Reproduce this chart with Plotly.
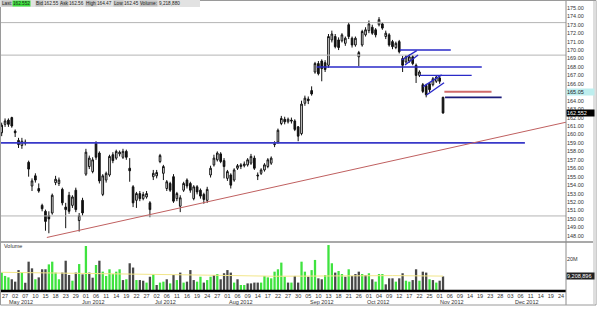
import plotly.graph_objects as go

# ---------------- data (trading-day index, 0 = 27 Apr 2012) ----------------
day_index = list(range(-1, 131))
opens = [160.2, 161.2, 161.7, 162.0, 160.4, 159.3, 158.7, 159.1, 156.7, 153.9,
         155.1, 153.6, 151.6, 150.9, 150.4, 150.7, 154.3, 154.2, 153.5, 151.4,
         152.8, 151.6, 153.4, 149.8, 152.2, 155.3, 156.2, 155.6, 158.95, 157.8,
         152.9, 154.6, 155.2, 157.6, 157.2, 157.7, 157.3, 158.0, 156.0, 153.8,
         152.2, 153.0, 152.4, 152.6, 151.9, 155.0, 155.1, 156.8, 155.4, 153.6,
         154.2, 155.0, 152.4, 151.5, 153.4, 154.6, 154.2, 152.4, 153.8, 153.4,
         152.9, 152.2, 155.2, 156.4, 157.0, 157.7, 156.9, 154.8, 155.2, 154.6,
         156.0, 156.2, 156.3, 156.4, 156.6, 157.2, 155.2, 155.4, 155.8, 156.2,
         156.6, 158.8, 159.1, 161.3, 161.8, 161.5, 161.7, 161.6, 160.9, 160.1,
         163.7, 164.2, 165.2, 167.4, 168.4, 168.7, 168.5, 168.2, 171.2, 171.6,
         171.2, 171.1, 170.8, 173.0, 171.4, 170.6, 169.2, 170.6, 171.8, 172.3,
         172.7, 172.4, 173.0, 173.1, 171.6, 171.8, 171.0, 170.3, 171.0, 169.0,
         168.6, 168.7, 169.2, 168.2, 167.0, 165.9, 165.8, 166.0, 165.9, 166.3,
         166.7, 164.4]
highs = [161.4, 161.9, 161.9, 162.1, 160.6, 159.6, 159.6, 159.4, 156.9, 154.8,
         155.4, 154.2, 151.8, 151.1, 150.9, 153.0, 155.1, 154.9, 153.7, 151.9,
         153.2, 152.8, 153.7, 150.7, 152.5, 158.3, 157.5, 157.3, 159.2, 158.0,
         155.3, 155.6, 157.6, 157.9, 158.2, 158.1, 158.3, 158.2, 157.2, 154.0,
         153.2, 153.3, 153.2, 153.3, 152.1, 155.8, 155.8, 157.7, 156.4, 154.6,
         154.4, 155.3, 153.2, 152.8, 154.4, 154.8, 154.4, 154.0, 154.0, 153.6,
         153.1, 153.8, 156.3, 157.6, 158.0, 157.9, 157.2, 155.8, 155.4, 156.0,
         156.5, 156.6, 156.8, 157.2, 157.7, 157.5, 155.5, 156.0, 156.6, 157.2,
         157.4, 159.2, 160.7, 162.2, 162.1, 162.0, 162.0, 161.8, 161.0, 164.0,
         164.6, 164.5, 165.7, 168.6, 168.7, 168.9, 168.8, 171.9, 172.3, 171.9,
         171.5, 172.0, 171.6, 173.3, 171.6, 171.6, 169.9, 172.4, 172.7, 173.5,
         173.0, 172.6, 173.9, 173.3, 172.3, 172.0, 171.2, 171.0, 171.2, 169.3,
         169.4, 169.5, 169.4, 168.4, 167.6, 166.1, 166.0, 166.2, 166.8, 167.0,
         166.9, 164.47]
lows = [159.8, 160.9, 160.9, 160.8, 159.7, 158.4, 158.3, 158.7, 155.0, 153.3,
        154.3, 153.1, 150.9, 148.6, 148.3, 150.5, 154.0, 153.9, 151.6, 148.9,
        150.6, 151.3, 150.8, 148.5, 150.4, 155.1, 155.9, 155.4, 157.0, 154.2,
        152.7, 154.3, 155.0, 156.6, 157.0, 157.4, 157.1, 157.0, 154.4, 151.4,
        151.3, 152.1, 152.2, 152.4, 150.2, 154.6, 154.8, 156.6, 154.6, 153.3,
        153.2, 151.9, 152.1, 150.8, 153.2, 153.6, 153.1, 152.2, 152.9, 152.4,
        151.8, 151.9, 154.9, 156.2, 156.8, 156.6, 154.8, 154.5, 153.6, 154.4,
        155.8, 155.9, 156.1, 156.2, 156.4, 155.8, 154.6, 155.2, 155.6, 156.0,
        156.4, 158.5, 158.9, 161.1, 161.2, 161.3, 161.3, 160.4, 159.2, 159.9,
        163.4, 163.6, 164.6, 167.2, 167.0, 166.3, 167.4, 167.9, 170.9, 170.2,
        170.0, 170.9, 170.5, 171.3, 170.3, 170.4, 168.1, 170.4, 171.6, 172.0,
        171.8, 171.5, 172.8, 172.4, 171.3, 170.4, 170.1, 170.1, 169.6, 167.4,
        168.4, 168.5, 168.2, 166.1, 166.8, 164.9, 164.4, 165.0, 165.7, 166.1,
        166.0, 162.45]
closes = [161.1, 161.6, 161.2, 161.0, 160.2, 158.8, 159.2, 159.0, 155.9, 154.5,
          154.6, 153.3, 151.2, 149.7, 150.0, 152.8, 154.7, 154.6, 151.9, 151.1,
          150.9, 152.6, 151.1, 150.4, 150.7, 157.9, 157.2, 157.0, 157.3, 154.5,
          155.1, 155.4, 157.4, 156.9, 158.0, 157.9, 158.0, 157.3, 155.7, 151.9,
          153.0, 152.4, 152.9, 153.0, 151.1, 155.4, 155.5, 157.5, 156.2, 154.4,
          153.4, 152.1, 153.0, 152.5, 154.2, 153.9, 153.4, 153.8, 153.2, 152.7,
          152.3, 153.5, 156.0, 157.2, 157.8, 156.8, 156.2, 155.6, 154.0, 155.8,
          156.3, 156.4, 156.5, 157.0, 157.4, 156.0, 155.1, 155.8, 156.4, 157.0,
          157.2, 158.9, 160.5, 161.9, 161.5, 161.8, 161.6, 160.6, 159.8, 163.6,
          164.3, 164.0, 164.8, 168.4, 167.2, 167.8, 167.7, 171.6, 171.9, 170.4,
          170.3, 171.8, 171.4, 171.6, 170.6, 171.4, 169.7, 172.2, 172.4, 173.1,
          172.0, 171.8, 173.6, 172.6, 172.0, 170.6, 170.4, 170.8, 169.8, 168.2,
          169.2, 169.2, 168.4, 167.0, 167.4, 165.1, 164.7, 165.3, 166.6, 166.8,
          166.3, 162.552]
volumes_m = [11.6, 9.5, 8.6, 7.4, 5.9, 13.2, 12.0, 5.2, 18.5, 14.3,
             7.4, 8.6, 13.7, 13.7, 16.8, 18.5, 11.6, 7.4, 11.6, 19.1,
             10.1, 6.5, 11.6, 17.0, 10.5, 28.4, 11.6, 8.4, 16.4, 19.1,
             12.2, 9.5, 13.7, 10.7, 12.2, 13.7, 6.9, 7.4, 17.5, 14.8,
             6.9, 6.9, 6.5, 5.3, 9.0, 10.7, 3.8, 5.3, 5.9, 7.4,
             4.8, 10.1, 6.9, 11.6, 5.3, 5.9, 13.2, 6.9, 5.9, 9.0,
             5.3, 6.9, 9.0, 10.1, 10.7, 7.4, 11.2, 13.2, 11.6, 5.3,
             7.4, 3.8, 3.8, 4.8, 4.8, 5.3, 5.3, 5.3, 9.5, 8.6,
             8.0, 12.2, 13.7, 17.9, 9.0, 5.3, 5.3, 9.5, 5.3, 18.5,
             12.2, 9.0, 13.2, 19.6, 8.0, 7.4, 10.1, 29.0, 17.5, 11.6,
             12.6, 10.7, 9.0, 13.7, 9.5, 10.7, 12.2, 10.7, 10.1, 11.2,
             7.4, 5.9, 10.7, 10.7, 4.2, 8.0, 8.0, 5.9, 8.0, 11.2,
             6.5, 5.9, 6.9, 13.7, 6.5, 12.2, 11.6, 7.4, 6.9, 5.3,
             6.5, 9.2]
vol_up = [1, 1, 1, 0, 0, 0, 1, 0, 0, 0,
          1, 0, 0, 0, 1, 1, 1, 1, 0, 0,
          0, 1, 0, 1, 0, 1, 0, 0, 1, 0,
          1, 1, 1, 1, 1, 1, 0, 1, 0, 0,
          1, 0, 0, 1, 0, 1, 0, 1, 1, 0,
          1, 0, 1, 0, 1, 0, 0, 0, 1, 1,
          0, 1, 1, 0, 1, 0, 0, 0, 0, 1,
          0, 1, 1, 0, 0, 0, 0, 1, 1, 1,
          1, 1, 1, 1, 1, 0, 1, 0, 0, 1,
          1, 0, 1, 1, 0, 0, 1, 1, 1, 0,
          1, 1, 0, 1, 0, 0, 0, 1, 0, 1,
          0, 1, 1, 1, 0, 0, 0, 1, 0, 0,
          1, 1, 0, 0, 1, 0, 0, 1, 0, 1,
          0, 0]
vol_avg_x = [-1, 20, 40, 60, 80, 100, 115, 130]
vol_avg_m = [11.8, 11.3, 10.8, 10.0, 9.3, 9.6, 9.7, 9.4]

tick_index = list(range(0, 166, 3))
tick_labels = ["27", "02", "07", "10", "15", "18", "23", "29", "01", "06",
               "11", "14", "19", "22", "27", "02", "06", "11", "16", "19",
               "24", "27", "01", "06", "09", "14", "17", "22", "27", "30",
               "05", "10", "13", "18", "21", "26", "01", "04", "09", "12",
               "17", "22", "25", "01", "06", "09", "14", "19", "23", "28",
               "03", "06", "11", "14", "19", "24"]
month_labels = ["May 2012", "Jun 2012", "Jul 2012", "Aug 2012",
                "Sep 2012", "Oct 2012", "Nov 2012", "Dec 2012"]
month_label_at = [4.7, 26.2, 47.5, 70.0, 94.0, 110.7, 132.8, 154.8]
price_ticks = list(range(148, 176))

# drawn study lines (index, price)
support_x, support_y = [-1.5, 154.3], [159.0, 159.0]
trend_x, trend_y = [12.4, 166.5], [147.8, 161.45]
gray_levels = [173.25, 169.4, 150.35]
blue_segments = [([117.2, 132.3], [170.0, 170.0]),
                 ([92.5, 141.5], [168.0, 168.0]),
                 ([123.1, 138.5], [167.0, 167.0]),
                 ([117.7, 122.2], [168.82, 169.92]),
                 ([118.7, 122.6], [168.23, 169.41]),
                 ([124.1, 129.6], [165.66, 167.05]),
                 ([125.1, 130.3], [164.68, 166.13])]
navy_x, navy_y = [130.6, 147.4], [164.4, 164.4]
red_x, red_y = [130.4, 144.4], [165.05, 165.05]

last_price = 162.552
alert_price = 165.05
last_volume_m = 9.208896

header_labels = ["Last:", "Bid:", "Ask:", "High:", "Low:", "Volume:"]
header_values = ["162.552", "162.55", "162.56", "164.47", "162.45", "9,218,880"]
header_label_px = [0.5, 35, 59.3, 85, 112.7, 139.3]
header_value_px = [11.7, 42.7, 67.7, 96, 122.7, 157.5]

# ---------------- figure ----------------
W, H = 600, 309
XR = [-1.5, 166.5]
PY = [147.50, 175.81]
VY = [0, 30.28]
xdom = [0, 566 / W]
pdom = [1 - 240 / H, 1 - 1 / H]
vdom = [1 - 291 / H, 1 - 243 / H]
small = dict(family="Liberation Sans", size=5.5, color="#333333")
tiny = dict(family="Liberation Sans", size=4.7, color="#222222")

fig = go.Figure()

for lvl in gray_levels:
    fig.add_trace(go.Scatter(x=XR, y=[lvl, lvl], mode="lines",
                             line=dict(color="#b4b4b4", width=1), hoverinfo="skip"))

fig.add_trace(go.Candlestick(
    x=day_index, open=opens, high=highs, low=lows, close=closes,
    increasing=dict(line=dict(color="#111111", width=1), fillcolor="white"),
    decreasing=dict(line=dict(color="#111111", width=1), fillcolor="#111111"),
    whiskerwidth=0, hoverinfo="skip"))

fig.add_trace(go.Scatter(x=support_x, y=support_y, mode="lines",
                         line=dict(color="#3838c8", width=1.6), hoverinfo="skip"))
fig.add_trace(go.Scatter(x=trend_x, y=trend_y, mode="lines",
                         line=dict(color="#c06060", width=1), hoverinfo="skip"))
for sx, sy in blue_segments:
    fig.add_trace(go.Scatter(x=sx, y=sy, mode="lines",
                             line=dict(color="#2a2ac8", width=1.4), hoverinfo="skip"))
fig.add_trace(go.Scatter(x=red_x, y=red_y, mode="lines",
                         line=dict(color="#d06a6a", width=2), hoverinfo="skip"))
fig.add_trace(go.Scatter(x=navy_x, y=navy_y, mode="lines",
                         line=dict(color="#1c1c7a", width=1.6), hoverinfo="skip"))

fig.add_trace(go.Bar(
    x=day_index, y=volumes_m, xaxis="x2", yaxis="y2", width=0.68,
    marker=dict(color=["#3fe33f" if u else "#474747" for u in vol_up], line=dict(width=0)),
    hoverinfo="skip"))
fig.add_trace(go.Scatter(x=vol_avg_x, y=vol_avg_m, xaxis="x2", yaxis="y2", mode="lines",
                         line=dict(color="#f2e68a", width=1), hoverinfo="skip"))

shapes = [
    dict(type="line", xref="paper", yref="paper", x0=0, x1=xdom[1],
         y0=1 - 291 / H, y1=1 - 291 / H, line=dict(color="black", width=2.5)),
    dict(type="line", xref="paper", yref="paper", x0=0, x1=595 / W,
         y0=1 - 242 / H, y1=1 - 242 / H, line=dict(color="#8c8c8c", width=1.5)),
    dict(type="line", xref="paper", yref="paper", x0=xdom[1], x1=xdom[1],
         y0=1 - 305 / H, y1=1, line=dict(color="#8c8c8c", width=1)),
    dict(type="rect", xref="paper", yref="paper", x0=0.5 / W, x1=596 / W,
         y0=1 - 305 / H, y1=1 - 0.5 / H, line=dict(color="#9a9a9a", width=1)),
    dict(type="rect", xref="paper", yref="paper", x0=593 / W, x1=596 / W,
         y0=1 - 304 / H, y1=1 - 1 / H, line=dict(width=0), fillcolor="#dedede"),
    # header strip
    dict(type="rect", xref="paper", yref="paper", x0=0, x1=200 / W,
         y0=1 - 7 / H, y1=1, line=dict(width=0), fillcolor="#e2e2e2"),
]

ann = []
for lab, pos in zip(month_labels, month_label_at):
    ann.append(dict(x=pos, xref="x2", y=1 - 302 / H, yref="paper", text=lab,
                    showarrow=False, font=small, xanchor="center", yanchor="middle"))
ann.append(dict(x=xdom[1], xref="paper", y=alert_price, yref="y", text="165.05",
                showarrow=False, font=dict(family="Liberation Sans", size=5.5, color="#222"),
                bgcolor="#bdeeee", xanchor="left", yanchor="middle", width=27, height=6,
                align="left", borderpad=0))
ann.append(dict(x=xdom[1], xref="paper", y=last_price, yref="y", text="162.552",
                showarrow=False, font=dict(family="Liberation Sans", size=5.5, color="white"),
                bgcolor="black", xanchor="left", yanchor="middle", width=27, height=6,
                align="left", borderpad=0))
ann.append(dict(x=xdom[1], xref="paper", y=last_volume_m, yref="y2", text="9,208,896",
                showarrow=False, font=dict(family="Liberation Sans", size=5.5, color="white"),
                bgcolor="#222222", xanchor="left", yanchor="middle", width=27, height=6,
                align="left", borderpad=0))
ann.append(dict(x=2 / W, xref="paper", y=1 - 246 / H, yref="paper", text="Volume",
                showarrow=False, font=small, xanchor="left", yanchor="middle"))

for txt, xp in zip(header_labels, header_label_px):
    ann.append(dict(x=xp / W, xref="paper", y=1 - 3.5 / H, yref="paper", text=txt,
                    showarrow=False, font=tiny, bgcolor="#c2c2c2",
                    xanchor="left", yanchor="middle", borderpad=0))
for k, (txt, xp) in enumerate(zip(header_values, header_value_px)):
    ann.append(dict(x=xp / W, xref="paper", y=1 - 3.5 / H, yref="paper", text=txt,
                    showarrow=False, font=tiny,
                    bgcolor="#3fe33f" if k == 0 else "#e2e2e2",
                    xanchor="left", yanchor="middle", borderpad=0))

fig.update_layout(
    width=W, height=H, margin=dict(l=0, r=0, t=0, b=0),
    paper_bgcolor="white", plot_bgcolor="white", showlegend=False,
    xaxis=dict(domain=xdom, range=XR, anchor="y", showticklabels=False, showgrid=False,
               zeroline=False, rangeslider=dict(visible=False), fixedrange=True),
    xaxis2=dict(domain=xdom, range=XR, anchor="y2", matches="x", showgrid=False,
                zeroline=False, tickmode="array", tickvals=tick_index, ticktext=tick_labels,
                tickfont=small, ticks="", tickangle=0),
    yaxis=dict(domain=pdom, range=PY, side="right", anchor="x", tickmode="array",
               tickvals=price_ticks, ticktext=[f"{v:.2f}" for v in price_ticks],
               tickfont=small, showgrid=False, zeroline=False, ticks=""),
    yaxis2=dict(domain=vdom, range=VY, side="right", anchor="x2", tickmode="array",
                tickvals=[20], ticktext=["20M"], tickfont=small, showgrid=False,
                zeroline=False, ticks=""),
    shapes=shapes, annotations=ann,
)

fig.write_html("out.html")
